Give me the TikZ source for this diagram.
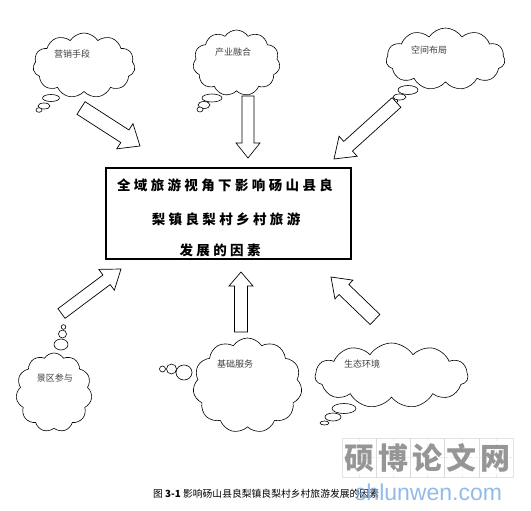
\documentclass[tikz,border=0pt]{standalone}
\usepackage{fontspec}
\newfontfamily\cjk{Noto Sans CJK SC}
\newfontfamily\cjksp[LetterSpace=25]{Noto Sans CJK SC}
\setmainfont{Liberation Sans}
\usetikzlibrary{shapes.symbols,calc}
\newcommand\blockarrow[5]{%
  \draw[arrowbody] let \p1=(#1), \p2=(#2),
    \n1={atan2(\y2-\y1,\x2-\x1)}, \n2={veclen(\x2-\x1,\y2-\y1)} in
    [shift={(\p1)}, rotate=\n1]
    (0pt,-#3pt) -- ({\n2-#5pt},-#3pt) -- ({\n2-#5pt},-#4pt) -- (\n2,0pt)
    -- ({\n2-#5pt},#4pt) -- ({\n2-#5pt},#3pt) -- (0pt,#3pt) -- cycle;}
\begin{document}
\begin{tikzpicture}[x=1pt,y=-1pt,
  arrowbody/.style={draw=black, fill=white, line width=0.7pt, line join=miter},
  cloudbox/.style={cloud, cloud puffs=11, cloud puff arc=115, cloud ignores aspect,
     draw=black, fill=white, line width=0.6pt, inner sep=0pt},
  bubble/.style={draw=black, fill=white, line width=0.6pt},
  cloudtext/.style={font=\cjk\fontsize{9}{9}\selectfont, text=black!75, inner sep=0pt},
  titletext/.style={font=\cjksp\bfseries\fontsize{13.5}{13.5}\selectfont, inner sep=0pt},
  mainbox/.style={draw=black, line width=1.3pt, fill=white}]
\useasboundingbox (0,0) rectangle (531,511);
\fill[white] (0,0) rectangle (531,511);

% central box
\node[mainbox, minimum width=245pt, minimum height=91pt] (box) at (228.5,213.5) {};
\node[titletext] (t1) at (225,185) {全域旅游视角下影响砀山县良};
\node[titletext] (t2) at (226,219) {梨镇良梨村乡村旅游};
\node[titletext] (t3) at (220,250) {发展的因素};

% clouds
\node[cloudbox, minimum width=102pt, minimum height=65pt] (c1) at (84,65.5) {};
\node[cloudtext] (l1) at (72,54) {营销手段};
\node[cloudbox, minimum width=87pt, minimum height=66pt] (c2) at (236.5,63) {};
\node[cloudtext] (l2) at (233,52) {产业融合};
\node[cloudbox, minimum width=119pt, minimum height=62pt] (c3) at (445.5,59) {};
\node[cloudtext] (l3) at (429,50) {空间布局};
\node[cloudbox, minimum width=76pt, minimum height=79pt] (c4) at (54,392.5) {};
\node[cloudtext] (l4) at (55,378) {景区参与};
\node[cloudbox, minimum width=109pt, minimum height=95pt] (c5) at (247.5,385.5) {};
\node[cloudtext] (l5) at (235,364) {基础服务};
\node[cloudbox, minimum width=153pt, minimum height=65pt] (c6) at (391.5,375.5) {};
\node[cloudtext] (l6) at (362,364) {生态环境};

% thought bubbles
\draw[bubble] (51,98) ellipse [x radius=8.5, y radius=3.5];
\draw[bubble] (44,106) ellipse [x radius=6, y radius=3];
\draw[bubble] (39,110) ellipse [x radius=3, y radius=2.3];
\draw[bubble] (212,98) ellipse [x radius=10, y radius=4];
\draw[bubble] (204,105) ellipse [x radius=6, y radius=3.5];
\draw[bubble] (200,109.5) ellipse [x radius=3, y radius=2.5];
\draw[bubble] (408,90) ellipse [x radius=10, y radius=4.5];
\draw[bubble] (399.5,97) ellipse [x radius=6.5, y radius=3];
\draw[bubble] (394,101) ellipse [x radius=4, y radius=2];
\draw[bubble] (61,344.5) ellipse [x radius=7, y radius=5.5];
\draw[bubble] (62.5,334) ellipse [x radius=4, y radius=4];
\draw[bubble] (63.5,327) ellipse [x radius=2.3, y radius=2.3];
\draw[bubble] (184,372.5) ellipse [x radius=8, y radius=7.5];
\draw[bubble] (171.5,369) ellipse [x radius=5, y radius=5];
\draw[bubble] (162.5,369) ellipse [x radius=3, y radius=3];
\draw[bubble] (344,408.5) ellipse [x radius=12, y radius=5];
\draw[bubble] (333,417) ellipse [x radius=8, y radius=4];
\draw[bubble] (324.5,423) ellipse [x radius=4.5, y radius=2];

% block arrows
\coordinate (a1s) at (81,108);   \coordinate (a1e) at (140,146);
\coordinate (a2s) at (248,96);   \coordinate (a2e) at (248,158);
\coordinate (a3s) at (396.5,102.5); \coordinate (a3e) at (334,159);
\coordinate (a4s) at (61.5,313.5); \coordinate (a4e) at (121,269);
\coordinate (a5s) at (241,332);  \coordinate (a5e) at (241,272);
\coordinate (a6s) at (375,319.5); \coordinate (a6e) at (331,277);
\blockarrow{a1s}{a1e}{7.5}{15}{18}
\blockarrow{a2s}{a2e}{6}{12}{15}
\blockarrow{a3s}{a3e}{6.5}{13.5}{19}
\blockarrow{a4s}{a4e}{6}{13}{18}
\blockarrow{a5s}{a5e}{6.5}{12}{14}
\blockarrow{a6s}{a6e}{7}{13}{18}

% caption
\node[anchor=west, inner sep=0pt, font=\cjk\fontsize{9.8}{9.8}\selectfont] (cap) at (153,494)
  {图 \textbf{3-1} 影响砀山县良梨镇良梨村乡村旅游发展的因素};

% watermark
\begin{scope}[opacity=0.75]
\foreach \i in {0,...,4} {
  \draw[black!15, line width=0.5pt] (342+34.2*\i,438) rectangle ++(34.2,39);
  \draw[black!10, line width=0.4pt, dashed] (342+34.2*\i+17.1,438) -- ++(0,39)
        (342+34.2*\i,457.5) -- ++(34.2,0);
}
\node[font=\cjk\bfseries\fontsize{30}{30}\selectfont, text=black!55, inner sep=0pt] (wm) at (427.5,457.5)
  {硕\hspace{4.2pt}博\hspace{4.2pt}论\hspace{4.2pt}文\hspace{4.2pt}网};
\node[font=\fontsize{23}{23}\selectfont, text={rgb,255:red,110;green,165;blue,225}, inner sep=0pt] (wu) at (428.5,492) {shlunwen.com};
\end{scope}
\end{tikzpicture}
\end{document}
